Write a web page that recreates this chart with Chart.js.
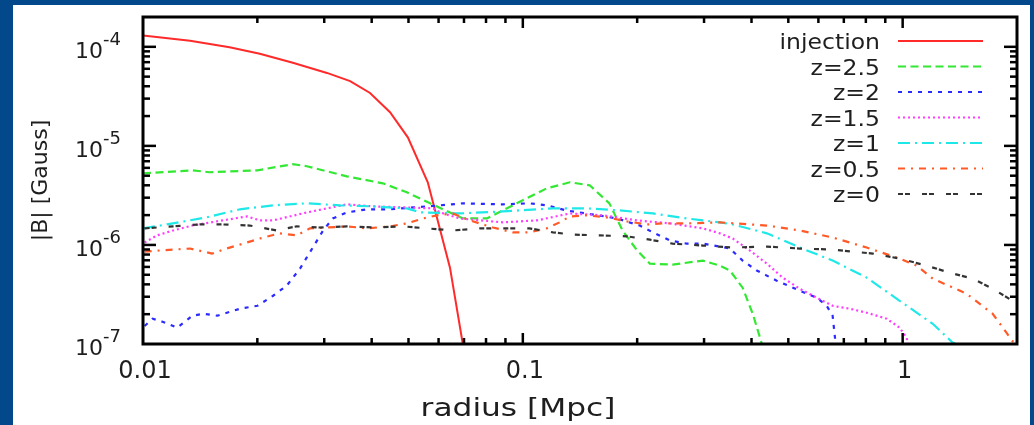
<!DOCTYPE html>
<html>
<head>
<meta charset="utf-8">
<title>|B| vs radius</title>
<script src="https://cdn.jsdelivr.net/npm/chart.js@4.4.1/dist/chart.umd.min.js"></script>
<style>
  html, body { margin: 0; padding: 0; }
  body { width: 1034px; height: 425px; background: #03488a; overflow: hidden; position: relative; }
  #card { position: absolute; left: 13px; top: 5px; width: 1017px; height: 420px; background: #fff; }
  canvas { display: block; }
</style>
</head>
<body>
<div id="card"><canvas id="bfield" width="1017" height="420"></canvas></div>
<script>
// radius [Mpc] and |B| [Gauss]
const injR = [0.01, 0.0133, 0.0169, 0.0203, 0.0248, 0.0305, 0.0351, 0.0396, 0.0447, 0.0498, 0.0562, 0.0643, 0.0695];
const injB = [1.3e-4, 1.15e-4, 9.9e-5, 8.5e-5, 6.9e-5, 5.45e-5, 4.5e-5, 3.42e-5, 2.19e-5, 1.22e-5, 4.29e-6, 5.9e-7, 1.0e-7];

const z25R = [0.01, 0.0135, 0.015, 0.02, 0.0248, 0.027, 0.0344, 0.0428, 0.0495, 0.057, 0.0695, 0.0804, 0.0964, 0.1156,
  0.133, 0.15, 0.169, 0.183, 0.2, 0.216, 0.248, 0.298, 0.33, 0.351, 0.379, 0.403, 0.426];
const z25B = [5.28e-6, 5.67e-6, 5.42e-6, 5.67e-6, 6.53e-6, 6.23e-6, 4.93e-6, 4.19e-6, 3.4e-6, 2.63e-6, 1.85e-6, 1.85e-6, 2.63e-6, 3.73e-6,
  4.29e-6, 4.0e-6, 2.63e-6, 1.4e-6, 8.78e-7, 6.48e-7, 6.33e-7, 6.95e-7, 6.18e-7, 5.51e-7, 3.7e-7, 2.02e-7, 1.0e-7];

const z2R = [0.0101, 0.0106, 0.0113, 0.0123, 0.0135, 0.0144, 0.0157, 0.018, 0.02, 0.022, 0.0239, 0.0259, 0.028, 0.0298,
  0.0316, 0.0344, 0.0389, 0.0447, 0.0514, 0.0605, 0.0695, 0.0886, 0.104, 0.116, 0.13, 0.147, 0.177, 0.203, 0.22,
  0.244, 0.27, 0.298, 0.33, 0.351, 0.379, 0.413, 0.466, 0.536, 0.594, 0.631, 0.654, 0.662, 0.666];
const z2B = [1.52e-7, 1.8e-7, 1.67e-7, 1.46e-7, 1.93e-7, 2.02e-7, 1.93e-7, 2.27e-7, 2.43e-7, 3.07e-7, 3.88e-7, 5.77e-7, 9.42e-7, 1.4e-6,
  1.85e-6, 2.13e-6, 2.29e-6, 2.29e-6, 2.39e-6, 2.51e-6, 2.63e-6, 2.57e-6, 2.63e-6, 2.51e-6, 2.23e-6, 2.08e-6, 1.85e-6, 1.57e-6, 1.34e-6,
  1.11e-6, 1.03e-6, 1.03e-6, 9.63e-7, 9.2e-7, 6.95e-7, 5.51e-7, 4.36e-7, 3.45e-7, 2.93e-7, 2.43e-7, 1.93e-7, 1.26e-7, 1.0e-7];

const z15R = [0.0101, 0.0109, 0.012, 0.0135, 0.0162, 0.0188, 0.0203, 0.022, 0.027, 0.0305, 0.0344, 0.0403, 0.0495, 0.058,
  0.0605, 0.0683, 0.0886, 0.109, 0.133, 0.1625, 0.1995, 0.244, 0.298, 0.33, 0.357, 0.396, 0.439, 0.483, 0.536,
  0.594, 0.654, 0.726, 0.804, 0.908, 0.982, 1.025, 1.03];
const z15B = [1.06e-6, 1.25e-6, 1.4e-6, 1.57e-6, 1.77e-6, 1.94e-6, 1.77e-6, 1.77e-6, 2.13e-6, 2.34e-6, 2.57e-6, 2.45e-6, 2.39e-6, 2.34e-6,
  2.13e-6, 1.85e-6, 1.69e-6, 1.77e-6, 2.08e-6, 1.99e-6, 1.77e-6, 1.65e-6, 1.47e-6, 1.31e-6, 1.16e-6, 8.78e-7, 6.48e-7, 4.68e-7, 3.61e-7,
  2.93e-7, 2.43e-7, 2.27e-7, 2.07e-7, 1.8e-7, 1.46e-7, 1.15e-7, 1.0e-7];

const z1R = [0.01, 0.012, 0.0147, 0.018, 0.022, 0.027, 0.033, 0.0403, 0.0495, 0.0539, 0.0683, 0.0886, 0.12, 0.147,
  0.18, 0.22, 0.27, 0.33, 0.357, 0.439, 0.536, 0.654, 0.804, 0.982, 1.2, 1.355, 1.378];
const z1B = [1.47e-6, 1.65e-6, 1.9e-6, 2.29e-6, 2.51e-6, 2.63e-6, 2.51e-6, 2.45e-6, 2.34e-6, 2.13e-6, 2.08e-6, 2.18e-6, 2.34e-6, 2.34e-6,
  2.23e-6, 2.08e-6, 1.85e-6, 1.69e-6, 1.61e-6, 1.31e-6, 9.42e-7, 6.95e-7, 4.68e-7, 2.73e-7, 1.6e-7, 1.03e-7, 1.0e-7];

const z05R = [0.0101, 0.012, 0.0133, 0.0152, 0.0166, 0.0188, 0.0203, 0.0229, 0.0254, 0.0275, 0.0305, 0.0344, 0.0389, 0.0447,
  0.0495, 0.0546, 0.0594, 0.0654, 0.0725, 0.0834, 0.0941, 0.104, 0.1156, 0.125, 0.133, 0.147, 0.166, 0.188,
  0.212, 0.234, 0.27, 0.33, 0.439, 0.536, 0.654, 0.804, 0.982, 1.089, 1.2, 1.473, 1.726, 1.946, 2.0];
const z05B = [8.57e-7, 8.98e-7, 9.2e-7, 8.18e-7, 9.2e-7, 1.06e-6, 1.16e-6, 1.31e-6, 1.25e-6, 1.47e-6, 1.5e-6, 1.54e-6, 1.47e-6, 1.54e-6,
  1.65e-6, 1.85e-6, 1.99e-6, 2.08e-6, 1.77e-6, 1.5e-6, 1.34e-6, 1.34e-6, 1.47e-6, 1.69e-6, 1.94e-6, 1.99e-6, 1.9e-6, 1.73e-6,
  1.61e-6, 1.65e-6, 1.65e-6, 1.69e-6, 1.57e-6, 1.4e-6, 1.19e-6, 9.42e-7, 7.28e-7, 6.18e-7, 4.57e-7, 3.22e-7, 2.02e-7, 1.07e-7, 1.0e-7];

const z0R = [0.0101, 0.012, 0.0141, 0.0162, 0.0191, 0.0225, 0.0254, 0.0292, 0.0344, 0.0403, 0.0483, 0.0559, 0.0654, 0.0771,
  0.104, 0.12, 0.1355, 0.1595, 0.188, 0.216, 0.248, 0.298, 0.357, 0.439, 0.536, 0.654, 0.834, 0.982, 1.156,
  1.33, 1.528, 1.726, 1.946, 2.0];
const z0B = [1.47e-6, 1.54e-6, 1.61e-6, 1.61e-6, 1.57e-6, 1.4e-6, 1.54e-6, 1.5e-6, 1.54e-6, 1.5e-6, 1.54e-6, 1.47e-6, 1.4e-6, 1.47e-6,
  1.47e-6, 1.34e-6, 1.27e-6, 1.25e-6, 1.22e-6, 1.13e-6, 1.03e-6, 9.86e-7, 9.42e-7, 9.63e-7, 9.2e-7, 8.98e-7, 8.18e-7, 7.28e-7, 6.18e-7,
  5.25e-7, 4.57e-7, 3.61e-7, 2.73e-7, 2.6e-7];

const seriesLabels = ['injection', 'z=2.5', 'z=2', 'z=1.5', 'z=1', 'z=0.5', 'z=0'];

// axes
const xMin = 0.01, xMax = 2;
const yMin = 1e-7, yMax = 2e-4;
const xMajor = [0.01, 0.1, 1];
const xTickLabels = ['0.01', '0.1', '1'];
const yMajor = [1e-4, 1e-5, 1e-6, 1e-7];
const yTickExp = ['-4', '-5', '-6', '-7'];

const FONT = '"DejaVu Sans", sans-serif';
const INK = '#1e1e1e';

const styles = [
  { color: '#ff2a2a', dash: [] },
  { color: '#33e833', dash: [8, 4.5] },
  { color: '#2b2bff', dash: [4, 6] },
  { color: '#ff3cff', dash: [2, 3] },
  { color: '#1ee8e8', dash: [12, 5, 2, 5] },
  { color: '#ff5a28', dash: [7, 6, 2, 6] },
  { color: '#333333', dash: [5, 2, 5, 12] }
];

function pts(rs, bs) {
  return rs.map((r, i) => ({ x: r, y: bs[i] }));
}

const allData = [
  pts(injR, injB), pts(z25R, z25B), pts(z2R, z2B), pts(z15R, z15B),
  pts(z1R, z1B), pts(z05R, z05B), pts(z0R, z0B)
];

const datasets = allData.map((d, i) => ({
  label: seriesLabels[i],
  data: d,
  borderColor: styles[i].color,
  borderDash: styles[i].dash,
  borderWidth: i === 0 ? 2 : 2.2,
  pointRadius: 0,
  fill: false,
  tension: 0,
  order: -i
}));

function minorTicks(decades, max) {
  const out = [];
  decades.forEach(d => {
    for (let k = 2; k <= 9; k++) {
      const v = k * d;
      if (v < max * 0.999) out.push(v);
    }
  });
  return out;
}

// frame, inward ticks, tick labels, titles and key (gnuplot look)
const gnuFrame = {
  id: 'gnuFrame',
  afterDraw(chart) {
    const { ctx, chartArea: a, scales: { x, y } } = chart;
    ctx.save();
    ctx.strokeStyle = '#000';
    ctx.lineCap = 'butt';

    const seg = (x1, y1, x2, y2) => { ctx.beginPath(); ctx.moveTo(x1, y1); ctx.lineTo(x2, y2); ctx.stroke(); };

    ctx.lineWidth = 2.5;
    xMajor.forEach(v => {
      const px = x.getPixelForValue(v);
      if (px <= a.left + 2 || px >= a.right - 2) return;
      seg(px, a.bottom, px, a.bottom - 11);
      seg(px, a.top, px, a.top + 11);
    });
    minorTicks([0.01, 0.1, 1], xMax).forEach(v => {
      const px = x.getPixelForValue(v);
      seg(px, a.bottom, px, a.bottom - 6);
      seg(px, a.top, px, a.top + 6);
    });
    yMajor.forEach(v => {
      const py = y.getPixelForValue(v);
      if (py >= a.bottom - 2 || py <= a.top + 2) return;
      seg(a.left, py, a.left + 13, py);
      seg(a.right, py, a.right - 13, py);
    });
    minorTicks([1e-7, 1e-6, 1e-5, 1e-4], yMax).forEach(v => {
      const py = y.getPixelForValue(v);
      seg(a.left, py, a.left + 7, py);
      seg(a.right, py, a.right - 7, py);
    });

    ctx.lineWidth = 3;
    ctx.strokeRect(a.left, a.top, a.right - a.left, a.bottom - a.top);

    ctx.fillStyle = INK;
    // x tick labels
    ctx.font = '24px ' + FONT;
    ctx.textAlign = 'center';
    ctx.textBaseline = 'alphabetic';
    xMajor.forEach((v, i) => {
      ctx.fillText(xTickLabels[i], x.getPixelForValue(v) + 2, a.bottom + 34);
    });

    // y tick labels: 10 with exponent
    yMajor.forEach((v, i) => {
      const py = y.getPixelForValue(v);
      ctx.font = '22px ' + FONT;
      ctx.textAlign = 'right';
      ctx.fillText('10', a.left - 40, py + 11);
      ctx.font = '18px ' + FONT;
      ctx.textAlign = 'left';
      ctx.fillText(yTickExp[i], a.left - 40, py - 2);
    });

    // axis titles
    ctx.save();
    ctx.translate(505, a.bottom + 72);
    ctx.scale(1.25, 1);
    ctx.font = '25px ' + FONT;
    ctx.textAlign = 'center';
    ctx.fillText('radius [Mpc]', 0, 0);
    ctx.restore();
    ctx.save();
    ctx.translate(28, (a.top + a.bottom) / 2);
    ctx.rotate(-Math.PI / 2);
    ctx.textBaseline = 'middle';
    ctx.textAlign = 'center';
    ctx.font = '22px ' + FONT;
    ctx.fillText('|B| [Gauss]', 0, 0);
    ctx.restore();

    // key, top right
    chart.data.datasets.forEach((ds, i) => {
      const rowY = 36 + i * 25.5;
      ctx.save();
      ctx.translate(867, rowY + 8);
      ctx.scale(1.12, 1);
      ctx.font = '21px ' + FONT;
      ctx.textAlign = 'right';
      ctx.textBaseline = 'alphabetic';
      ctx.fillStyle = INK;
      ctx.fillText(ds.label, 0, 0);
      ctx.restore();
      ctx.save();
      ctx.strokeStyle = ds.borderColor;
      ctx.lineWidth = ds.borderWidth;
      ctx.setLineDash(ds.borderDash);
      seg(885, rowY, 970, rowY);
      ctx.restore();
    });
    ctx.restore();
  }
};

new Chart(document.getElementById('bfield'), {
  type: 'line',
  data: { datasets },
  options: {
    responsive: false,
    animation: false,
    layout: { padding: { left: 0, right: 13, top: 12, bottom: 0 } },
    plugins: { legend: { display: false }, tooltip: { enabled: false } },
    scales: {
      x: {
        type: 'logarithmic', min: xMin, max: xMax,
        grid: { display: false }, border: { display: false },
        ticks: { display: false },
        afterFit: s => { s.height = 81; }
      },
      y: {
        type: 'logarithmic', min: yMin, max: yMax,
        grid: { display: false }, border: { display: false },
        ticks: { display: false },
        afterFit: s => { s.width = 130; }
      }
    }
  },
  plugins: [gnuFrame]
});
</script>
</body>
</html>
